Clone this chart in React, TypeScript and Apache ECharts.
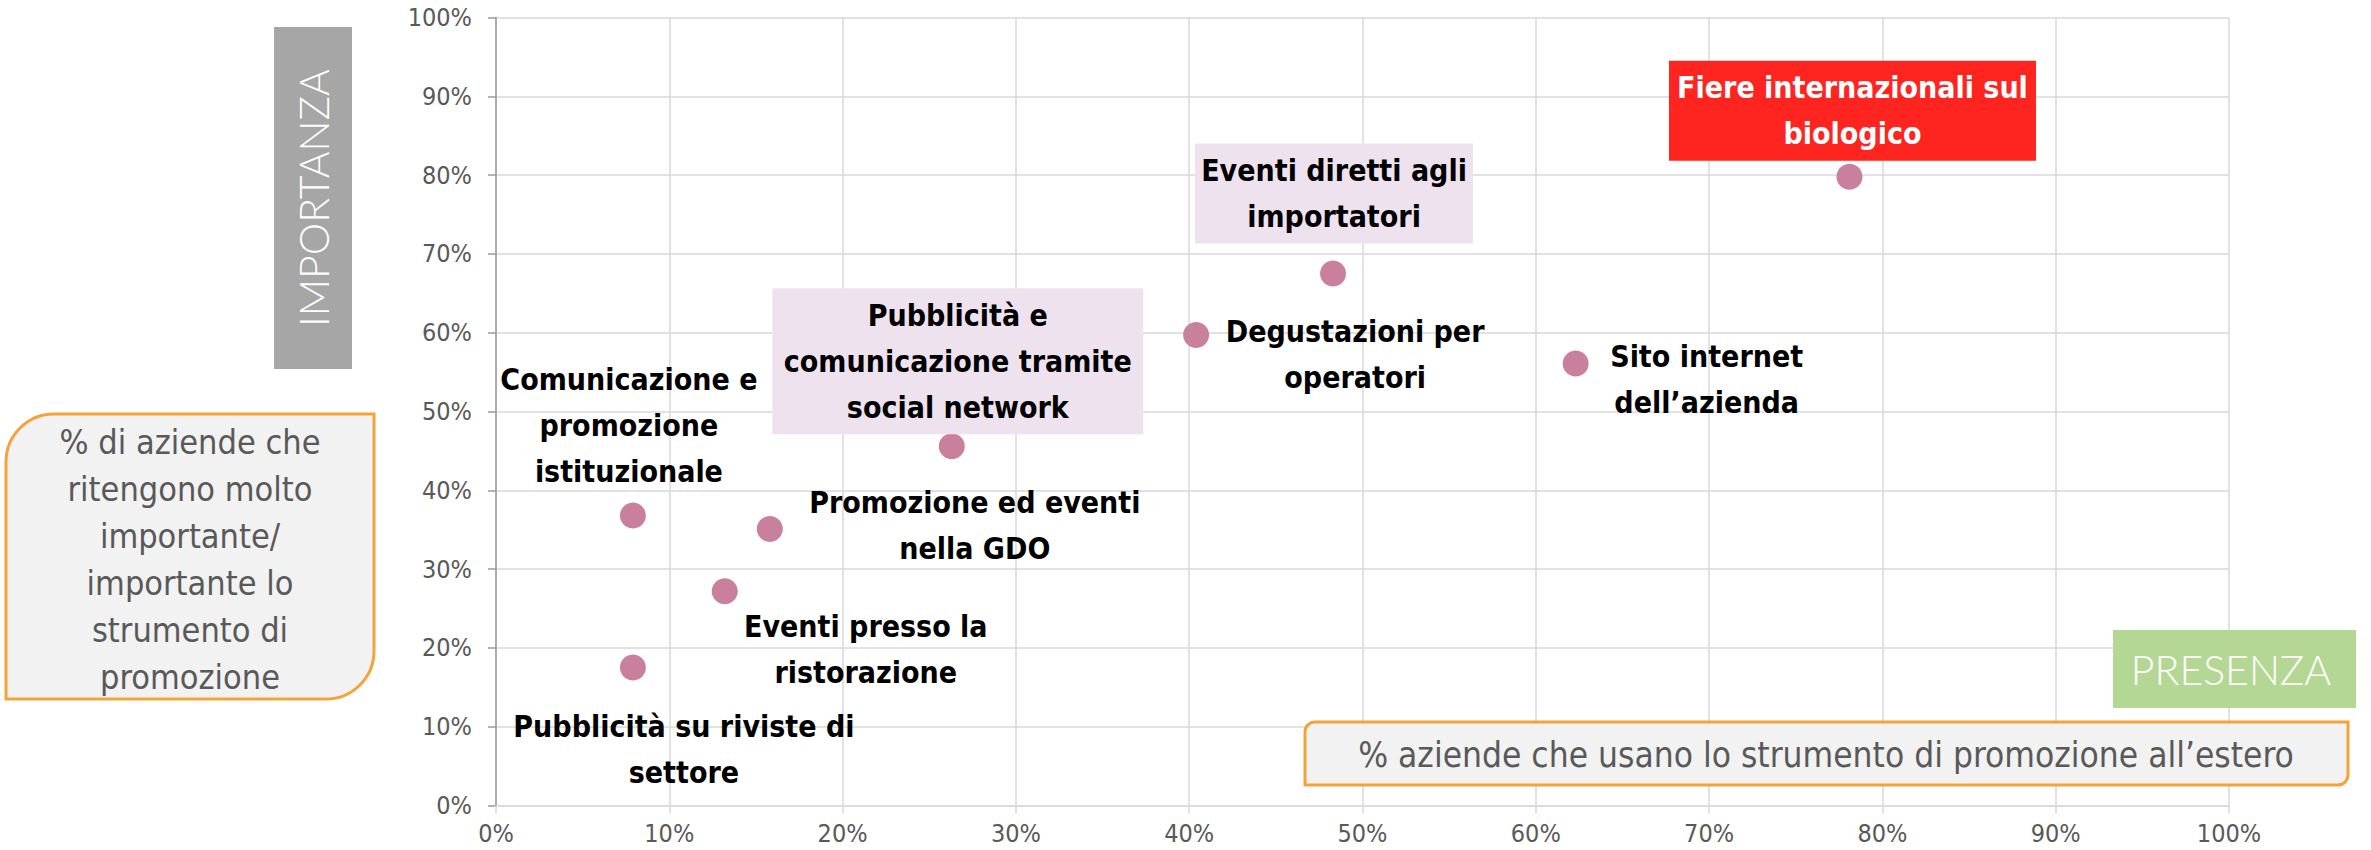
import React, { useEffect, useRef } from "react";
import * as echarts from "echarts";

// % aziende che usano lo strumento (x) e % che lo ritengono importante (y)
const toolNames = [
  "Comunicazione e\npromozione\nistituzionale",
  "Pubblicità su riviste di\nsettore",
  "Eventi presso la\nristorazione",
  "Promozione ed eventi\nnella GDO",
  "Pubblicità e\ncomunicazione tramite\nsocial network",
  "Degustazioni per\noperatori",
  "Eventi diretti agli\nimportatori",
  "Sito internet\ndell’azienda",
  "Fiere internazionali sul\nbiologico",
];
const presence = [7.9, 7.9, 13.2, 15.8, 26.3, 40.4, 48.3, 62.3, 78.1];
const importance = [36.8, 17.5, 27.2, 35.1, 45.6, 59.7, 67.5, 56.1, 79.8];

const yAxisTitle = "IMPORTANZA";
const xAxisTitle = "PRESENZA";
const yNote = "% di aziende che\nritengono molto\nimportante/\nimportante lo\nstrumento di\npromozione";
const xNote = "% aziende che usano lo strumento di promozione all’estero";

const NARROW = "'DejaVu Sans Condensed', 'Liberation Sans Narrow', sans-serif";

// per-point label styling (offsets / boxes)
const labelStyles: any[] = [
  { offset: [-4, -90] },
  { offset: [51, 82] },
  { offset: [141, 58] },
  { offset: [205, -3] },
  { offset: [6, -85], backgroundColor: "#EFE2EF", padding: [4, 8], width: 355 },
  { offset: [159, 19] },
  { offset: [1, -80], backgroundColor: "#EFE2EF", padding: [4, 9], width: 260 },
  { offset: [131, 16] },
  { offset: [3, -66], backgroundColor: "#FE2420", padding: [4, 8], width: 351, color: "#FFFFFF" },
];

export default function App() {
  const ref = useRef<HTMLDivElement>(null);
  useEffect(() => {
    document.body.style.margin = "0";
    const chart = echarts.init(ref.current!, null, { renderer: "svg" });
    const data = presence.map((x, i) => ({
      name: toolNames[i],
      value: [x, importance[i]],
      label: labelStyles[i],
    }));
    const option: any = {
      animation: false,
      backgroundColor: "#FFFFFF",
      grid: { left: 496, right: 142, top: 17.5, bottom: 44.5 },
      xAxis: {
        type: "value",
        min: 0,
        max: 100,
        interval: 10,
        axisLine: { show: true, lineStyle: { color: "#D9D9D9", width: 1.5 } },
        axisTick: { show: true, length: 8, lineStyle: { color: "#D9D9D9", width: 1.5 } },
        axisLabel: {
          formatter: "{value}%",
          color: "#595959",
          fontSize: 25,
          fontFamily: NARROW,
          margin: 15,
        },
        splitLine: { show: true, lineStyle: { color: "#D9D9D9", width: 1.5 } },
      },
      yAxis: {
        type: "value",
        min: 0,
        max: 100,
        interval: 10,
        axisLine: { show: true, lineStyle: { color: "#9A9A9A", width: 1.5 } },
        axisTick: { show: true, length: 8, lineStyle: { color: "#9A9A9A", width: 1.5 } },
        axisLabel: {
          formatter: "{value}%",
          color: "#595959",
          fontSize: 25,
          fontFamily: NARROW,
          margin: 24,
        },
        splitLine: { show: true, lineStyle: { color: "#D9D9D9", width: 1.5 } },
      },
      series: [
        {
          type: "scatter",
          symbolSize: 26,
          itemStyle: { color: "#C8809C", opacity: 1 },
          label: {
            show: true,
            position: "inside",
            formatter: "{b}",
            color: "#000000",
            fontFamily: NARROW,
            fontWeight: "bold",
            fontSize: 30,
            lineHeight: 46,
            align: "center",
            verticalAlign: "middle",
          },
          data,
        },
      ],
      graphic: [
        { type: "rect", z: 100, shape: { x: 274, y: 27, width: 78, height: 342 }, style: { fill: "#A6A6A6" } },
        {
          type: "text", z: 101, x: 313, y: 198, rotation: Math.PI / 2,
          style: { text: yAxisTitle, fill: "#FFFFFF", fontSize: 41, fontFamily: "Lato", fontWeight: 300, align: "center", verticalAlign: "middle", textAlign: "center", textVerticalAlign: "middle" },
        },
        { type: "rect", z: 100, shape: { x: 2113, y: 630, width: 243, height: 78 }, style: { fill: "#B4D794" } },
        {
          type: "text", z: 101, x: 2231, y: 669,
          style: { text: xAxisTitle, fill: "#FFFFFF", fontSize: 41, fontFamily: "Lato", fontWeight: 300, align: "center", verticalAlign: "middle", textAlign: "center", textVerticalAlign: "middle" },
        },
        {
          type: "rect", z: 100, shape: { x: 6, y: 414, width: 368, height: 285, r: [48, 0, 48, 0] },
          style: { fill: "#F2F2F2", stroke: "#F2A33A", lineWidth: 3 },
        },
        {
          type: "text", z: 101, x: 190, y: 559,
          style: { text: yNote, fill: "#595959", fontSize: 34, fontFamily: NARROW, lineHeight: 47, align: "center", verticalAlign: "middle", textAlign: "center", textVerticalAlign: "middle" },
        },
        {
          type: "rect", z: 100, shape: { x: 1305, y: 722, width: 1043, height: 63, r: [10, 0, 10, 0] },
          style: { fill: "#F2F2F2", stroke: "#F2A33A", lineWidth: 3 },
        },
        {
          type: "text", z: 101, x: 1826, y: 755,
          style: { text: xNote, fill: "#595959", fontSize: 35, fontFamily: NARROW, align: "center", verticalAlign: "middle", textAlign: "center", textVerticalAlign: "middle" },
        },
      ],
    };
    chart.setOption(option);
    return () => chart.dispose();
  }, []);
  return <div ref={ref} style={{ width: 2371, height: 850 }} />;
}
